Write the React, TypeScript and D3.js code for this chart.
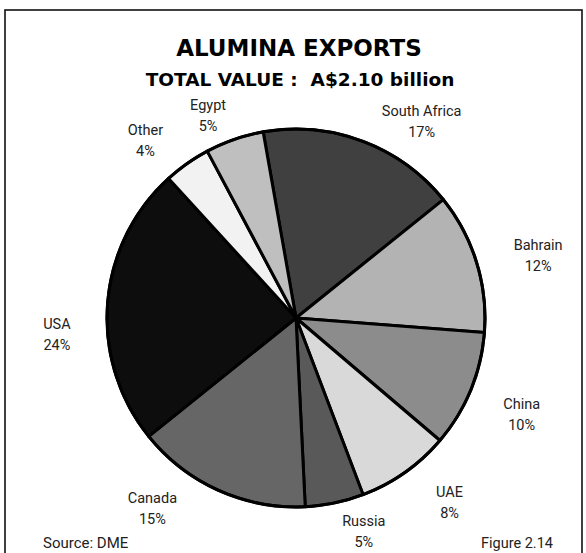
import React from "react";
import * as d3 from "d3";

// ---- data ----
const categories = ["South Africa", "Bahrain", "China", "UAE", "Russia", "Canada", "USA", "Other", "Egypt"];
const shares = [17, 12, 10, 8, 5, 15, 24, 4, 5];
const sliceColors = ["#404040", "#b3b3b3", "#8c8c8c", "#d9d9d9", "#595959", "#666666", "#0d0d0d", "#f2f2f2", "#bfbfbf"];
const titleText = "ALUMINA EXPORTS";
const subtitleText = "TOTAL VALUE :  A$2.10 billion";
const sourceText = "Source: DME";
const figureText = "Figure 2.14";

// ---- layout ----
const W = 586;
const H = 553;
const CX = 296;
const CY = 318;
const R = 189;
const START_DEG = -10;
// label placement per slice: [angle shift from slice mid (deg), distance from centre]
const labelLayout: [number, number][] = [
  [12.5, 230],
  [3.7, 249],
  [1.6, 247],
  [-4, 243],
  [-5.5, 228],
  [12.2, 242],
  [-9.4, 240],
  [-5.7, 230],
  [-4.9, 217],
];

export default function App() {
  const rad = (d: number) => (d * Math.PI) / 180;
  const pie = d3
    .pie<number>()
    .sort(null)
    .value((d) => d)
    .startAngle(rad(START_DEG))
    .endAngle(rad(START_DEG + 360));
  const arcs = pie(shares);
  const arc = d3.arc<d3.PieArcDatum<number>>().innerRadius(0).outerRadius(R);

  const labelFont = "Roboto, 'Noto Sans', sans-serif";
  const titleFont = "'DejaVu Sans', sans-serif";
  return (
    <svg
      width={W}
      height={H}
      viewBox={`0 0 ${W} ${H}`}
      style={{ position: "absolute", left: 0, top: 0, background: "#fff" }}
    >
      <rect x={5} y={10} width={577} height={560} fill="#fff" stroke="#111" strokeWidth={1.6} />
      <text x={299} y={56} textAnchor="middle" fontFamily={titleFont} fontWeight={700} fontSize={23} fill="#000">
        {titleText}
      </text>
      <text
        x={300}
        y={86}
        textAnchor="middle"
        fontFamily={titleFont}
        fontWeight={700}
        fontSize={18.5}
        fill="#000"
        style={{ whiteSpace: "pre" }}
      >
        {subtitleText}
      </text>
      <g transform={`translate(${CX},${CY})`}>
        {arcs.map((a, i) => (
          <path
            key={categories[i]}
            d={arc(a) || ""}
            fill={sliceColors[i]}
            stroke="#000"
            strokeWidth={3}
            strokeLinejoin="round"
          />
        ))}
        <circle r={R} fill="none" stroke="#000" strokeWidth={3} />
        {arcs.map((a, i) => {
          const mid = (a.startAngle + a.endAngle) / 2 + rad(labelLayout[i][0]);
          const dist = labelLayout[i][1];
          const x = Math.sin(mid) * dist;
          const y = -Math.cos(mid) * dist;
          return (
            <text key={"l" + i} x={x} y={y} textAnchor="middle" fontFamily={labelFont} fontSize={14.5} fill="#222">
              <tspan x={x} y={y - 9.5}>{categories[i]}</tspan>
              <tspan x={x} y={y + 11.5}>{`${shares[i]}%`}</tspan>
            </text>
          );
        })}
      </g>
      <text x={43} y={548} fontFamily={labelFont} fontSize={15} fill="#222">
        {sourceText}
      </text>
      <text x={553} y={548} textAnchor="end" fontFamily={labelFont} fontSize={14.5} fill="#222">
        {figureText}
      </text>
    </svg>
  );
}
